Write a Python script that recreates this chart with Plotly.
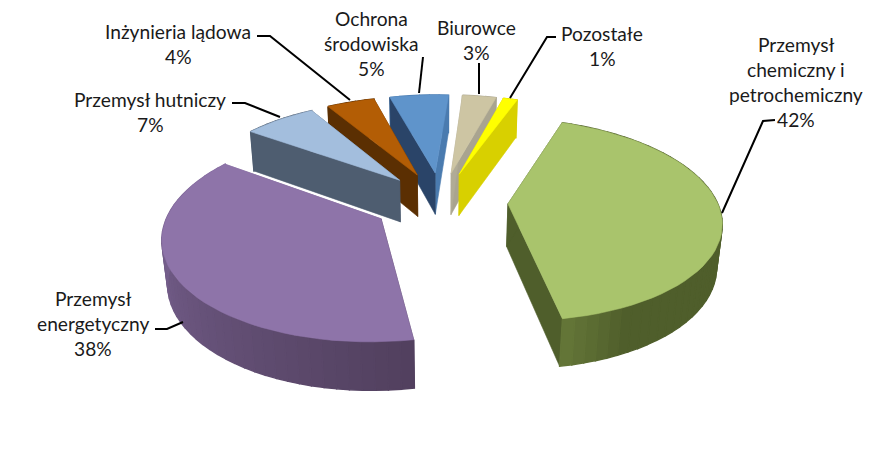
import math
import plotly.graph_objects as go

categories = ["Przemysł chemiczny i petrochemiczny", "Przemysł energetyczny", "Przemysł hutniczy",
              "Inżynieria lądowa", "Ochrona środowiska", "Biurowce", "Pozostałe"]
values = [41.7, 37.5, 6.6, 4.4, 5.4, 3.1, 1.3]
label_lines = [["Przemysł", "chemiczny i", "petrochemiczny"], ["Przemysł", "energetyczny"], ["Przemysł hutniczy"],
               ["Inżynieria lądowa"], ["Ochrona", "środowiska"], ["Biurowce"], ["Pozostałe"]]
label_x = [796, 93, 150, 178, 371, 476, 602]
label_y = [44, 298, 99, 31, 18, 27, 33]
leaders = [[(775, 120), (763, 121), (722, 213)], [(155, 329), (167, 329), (183, 322)],
           [(232, 103), (245, 103), (280, 117)], [(257, 36), (270, 36), (350, 100)],
           [(423, 57), (419, 93)], [(479, 63), (479, 94)], [(556, 37), (547, 37), (510, 98)]]
top_colors = ["#A9C46C", "#8E74A9", "#A3BEDD", "#B35D05", "#5F94CB", "#CDC5A3", "#FFFF00"]
start_wall = ["#4F5E2B", "#52405F", "#4E5D70", "#5B2F02", "#2A4468", "#B0AB96", "#D8D000"]
end_wall = ["#4F5E2B", "#7F6898", "#4E5D70", "#5B2F02", "#4A7BAF", "#A9A490", "#D8D000"]
rim_from = [(0x4F, 0x5E, 0x2B), (0x52, 0x40, 0x5F), (0x4E, 0x5D, 0x70), (0x5B, 0x2F, 0x02),
            (0x4A, 0x7B, 0xAF), (0xA9, 0xA4, 0x90), (0xD8, 0xD0, 0x00)]
rim_to = [(0x68, 0x7A, 0x3A), (0x85, 0x6D, 0xA0), (0x4E, 0x5D, 0x70), (0x5B, 0x2F, 0x02),
          (0x4A, 0x7B, 0xAF), (0xA9, 0xA4, 0x90), (0xD8, 0xD0, 0x00)]
explode = [0.32, 0.33, 0.30, 0.30, 0.30, 0.30, 0.30]

START_ANGLE = 20.0
CX, CY = 441.0, 201.0
A, B, P, H, R = 209.0, 98.0, 0.154, 43.5, 0.02


def proj(u, v, z=0.0):
    w = 1 - P * v + R * z
    return CX + A * u / w, CY + (B * v + H * z) / w


def ground(angle, ex, ev):
    t = math.radians(angle)
    return ex + math.sin(t), ev - math.cos(t)


fig = go.Figure()


def poly(points, color, width=0.6):
    fig.add_trace(go.Scatter(x=[p[0] for p in points] + [points[0][0]], y=[p[1] for p in points] + [points[0][1]],
                             mode="lines", fill="toself", fillcolor=color, line=dict(color=color, width=width),
                             hoverinfo="skip", showlegend=False))


slices = []
a0 = START_ANGLE
total = sum(values)
for i, val in enumerate(values):
    a1 = a0 + 360.0 * val / total
    mid = math.radians((a0 + a1) / 2)
    ex, ev = explode[i] * math.sin(mid), -explode[i] * math.cos(mid)
    slices.append((ev, i, a0, a1, ex))
    a0 = a1

for ev, i, a0, a1, ex in sorted(slices):
    n = max(3, int((a1 - a0) / 3))
    angles = [a0 + (a1 - a0) * k / n for k in range(n + 1)]
    pts = [ground(a, ex, ev) for a in angles]
    s, e = pts[0], pts[-1]

    def radial():
        poly([proj(ex, ev), proj(*e), proj(*e, 1), proj(ex, ev, 1)], end_wall[i])
        poly([proj(ex, ev), proj(*s), proj(*s, 1), proj(ex, ev, 1)], start_wall[i])

    def rim():
        for k in range(n):
            f = k / max(1, n - 1)
            col = tuple(int(rim_from[i][c] + (rim_to[i][c] - rim_from[i][c]) * f) for c in range(3))
            if i == 0:
                g = max(0.0, (k - (n - 6)) / 6)
                col = tuple(int(rim_from[0][c] + (rim_to[0][c] - rim_from[0][c]) * g) for c in range(3))
            u0, v0 = pts[k]
            u1, v1 = pts[k + 1]
            poly([proj(u0, v0), proj(u1, v1), proj(u1, v1, 1), proj(u0, v0, 1)], "rgb(%d,%d,%d)" % col, 1.4)

    # Far slices show their radial walls in front of the rim; near slices the reverse.
    if ev < -0.01:
        rim()
        radial()
    else:
        radial()
        rim()
    poly([proj(ex, ev)] + [proj(*p) for p in pts], top_colors[i])

for line in leaders:
    fig.add_trace(go.Scatter(x=[p[0] for p in line], y=[p[1] for p in line], mode="lines",
                             line=dict(color="black", width=2), hoverinfo="skip", showlegend=False))

LINE_STEP = 25.3
for i, lines in enumerate(label_lines):
    rows = lines + ["%.0f%%" % values[i]]
    for j, row in enumerate(rows):
        fig.add_annotation(x=label_x[i], y=label_y[i] + j * LINE_STEP, text=row, showarrow=False,
                           xanchor="center", yanchor="middle", font=dict(family="Lato", size=19.2, color="#1a1a1a"))

fig.update_layout(width=893, height=474, margin=dict(l=0, r=0, t=0, b=0), paper_bgcolor="white",
                  plot_bgcolor="white", showlegend=False,
                  xaxis=dict(range=[0, 893], visible=False, fixedrange=True),
                  yaxis=dict(range=[474, 0], visible=False, fixedrange=True))
fig.write_html("out.html", config={"displayModeBar": False},
               post_script="document.body.style.margin='0';document.documentElement.style.overflow='hidden';")
